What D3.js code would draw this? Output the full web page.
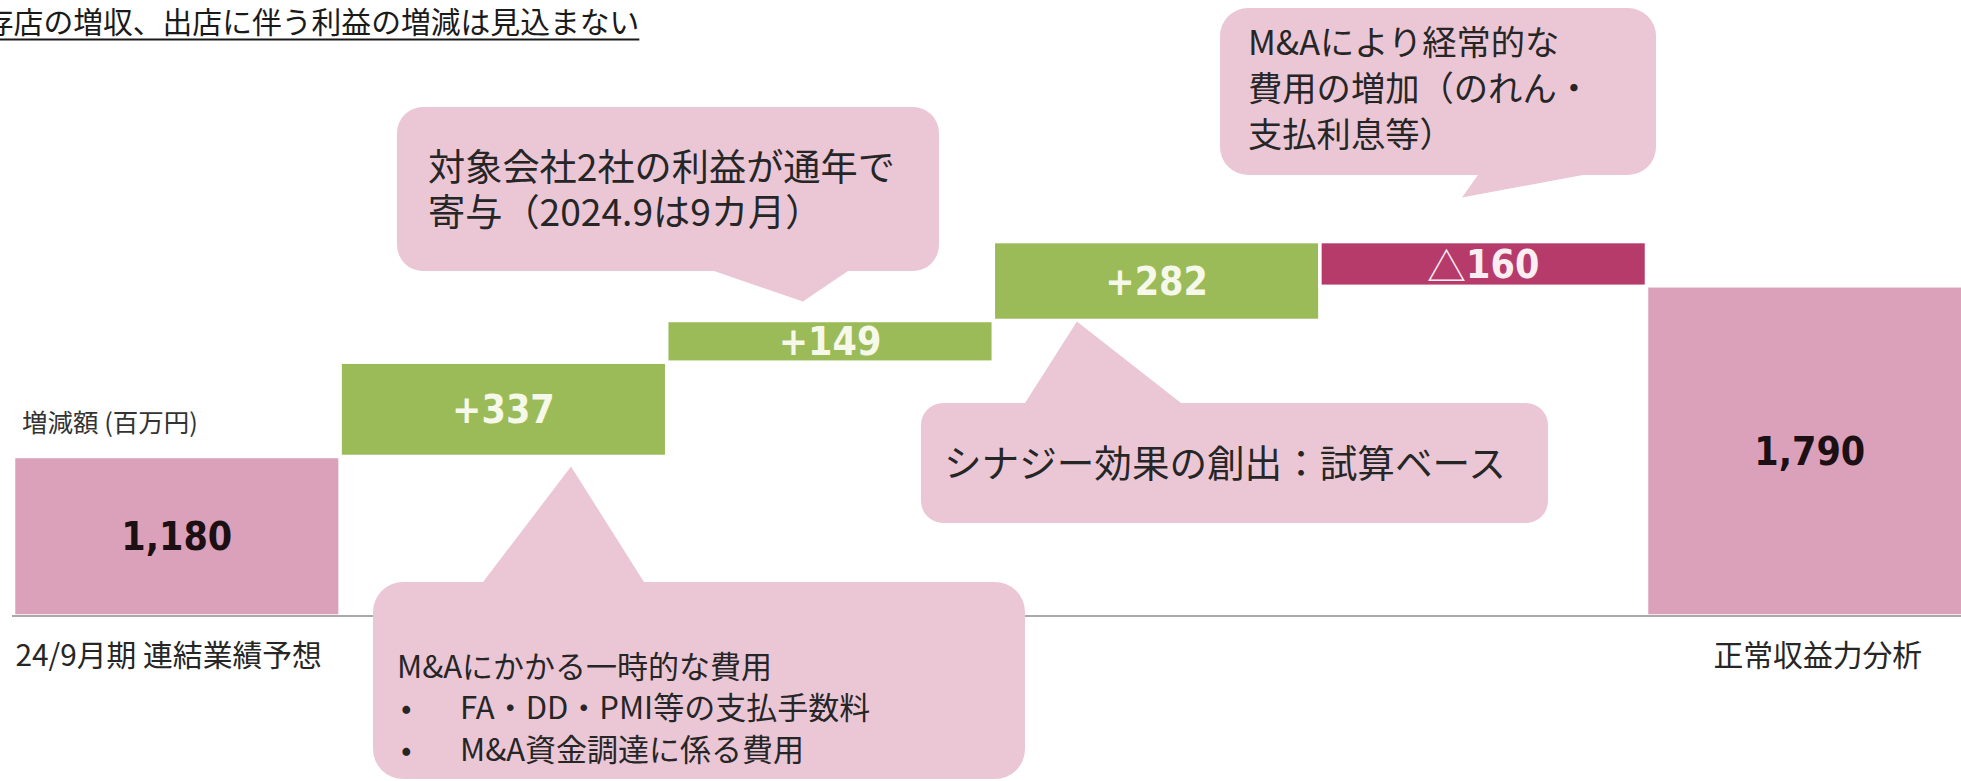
<!DOCTYPE html>
<meta charset="utf-8">
<title>正常収益力分析</title>
<script src="https://d3js.org/d3.v7.min.js"></script>
<style>
  body { margin: 0; background: #fff; }
  svg { display: block; }
  text { font-family: "Noto Sans CJK JP", "Noto Sans", sans-serif; fill: #262626; }
  text.value {
    font-family: "DejaVu Sans Condensed", "DejaVu Sans", sans-serif;
    font-weight: bold;
    font-size: 39px;
    text-anchor: middle;
    dominant-baseline: central;
  }
  text.cat { font-size: 29.8px; }
  text.unit { font-size: 25.5px; fill: #333; }
  text.title { font-size: 29.8px; fill: #1a1a1a; }
  .bar { stroke: #fff; stroke-width: 3.5px; }
  .callout { fill: #ebc7d6; }
</style>
<div id="chart"></div>
<script>
var width = 1961, height = 781;

// waterfall steps, 百万円
var stepKeys = ["forecast", "ma_once", "full_year", "synergy", "ma_recurring", "normal"];
var stepNames = ["24/9月期 連結業績予想", "", "", "", "", "正常収益力分析"];
var stepValues = [1180, 337, 149, 282, -160, 1790];
var stepIsTotal = [true, false, false, false, false, true];

// the slide cuts the value axis, bars start from this value
var axisFloor = 610;
var axisTop = 1950;

var titleText = "既存店の増収、出店に伴う利益の増減は見込まない";
var unitText = "増減額 (百万円)";

var noteFullYear = ["対象会社2社の利益が通年で", "寄与（2024.9は9カ月）"];
var noteOnce = ["M&Aにかかる一時的な費用"];
var noteOnceBullets = ["FA・DD・PMI等の支払手数料", "M&A資金調達に係る費用"];
var noteSynergy = ["シナジー効果の創出：試算ベース"];
var noteRecurring = ["M&Aにより経常的な", "費用の増加（のれん・", "支払利息等）"];

var colors = { total: "#dba1ba", up: "#9bbb59", down: "#b73b6a" };

var svg = d3.select("#chart")
  .append("svg")
    .attr("width", width)
    .attr("height", height);

var x = d3.scaleBand()
  .domain(stepKeys)
  .range([13.5, 13.5 + 6 * 326.6])
  .paddingInner(0);

var y = d3.scaleLinear()
  .domain([axisFloor, axisTop])
  .range([616, 241]);

// build the floating bars
var running = 0;
var bars = stepKeys.map(function(k, i) {
  var v = stepValues[i], lo, hi, type;
  if (stepIsTotal[i]) {
    lo = axisFloor; hi = v; running = v; type = "total";
  } else {
    lo = Math.min(running, running + v);
    hi = Math.max(running, running + v);
    running += v;
    type = v >= 0 ? "up" : "down";
  }
  return { key: k, name: stepNames[i], value: v, lo: lo, hi: hi, type: type };
});

function valueLabel(d) {
  if (d.type == "total") return d3.format(",")(d.value);
  if (d.type == "up") return "+" + d.value;
  return Math.abs(d.value);
}

svg.selectAll("rect.bar")
  .data(bars)
  .enter()
  .append("rect")
    .attr("class", "bar")
    .attr("x", function(d) { return x(d.key); })
    .attr("y", function(d) { return y(d.hi); })
    .attr("width", x.bandwidth())
    .attr("height", function(d) { return y(d.lo) - y(d.hi); })
    .attr("fill", function(d) { return colors[d.type]; });

var labels = svg.selectAll("text.value")
  .data(bars)
  .enter()
  .append("text")
    .attr("class", "value")
    .attr("x", function(d) { return x(d.key) + x.bandwidth() / 2; })
    .attr("y", function(d) { return (y(d.lo) + y(d.hi)) / 2; })
    .style("fill", function(d) {
      return d.type == "total" ? "#1c1014" : (d.type == "up" ? "#f6f8ea" : "#fbeef3");
    });

labels.filter(function(d) { return d.type == "down"; })
  .append("tspan")
    .style("font-family", "'Noto Sans CJK JP'")
    .style("font-weight", "normal")
    .text("△");
labels.append("tspan").text(valueLabel);

// baseline
svg.append("line")
  .attr("x1", 12)
  .attr("x2", width)
  .attr("y1", y(axisFloor))
  .attr("y2", y(axisFloor))
  .attr("stroke", "#8c8c8c")
  .attr("stroke-width", 1.5);

// category labels: first one sits at the bar's left edge, last one centred
svg.selectAll("text.cat")
  .data(bars.filter(function(d) { return d.name != ""; }))
  .enter()
  .append("text")
    .attr("class", "cat")
    .attr("x", function(d) {
      return d.key == stepKeys[0] ? x(d.key) + 2 : x(d.key) + x.bandwidth() / 2 + 8;
    })
    .attr("y", 666)
    .attr("text-anchor", function(d) { return d.key == stepKeys[0] ? "start" : "middle"; })
    .text(function(d) { return d.name; });

svg.append("text")
  .attr("class", "unit")
  .attr("x", 22)
  .attr("y", 432)
  .text(unitText);

// title (cut at the left edge like the slide)
var title = svg.append("text")
  .attr("class", "title")
  .attr("x", -46)
  .attr("y", 33)
  .text(titleText);
var titleEnd = -46 + title.node().getComputedTextLength();
svg.append("line")
  .attr("x1", 0)
  .attr("x2", titleEnd)
  .attr("y1", 39.5)
  .attr("y2", 39.5)
  .attr("stroke", "#1a1a1a")
  .attr("stroke-width", 2);

// callouts
var barByKey = {};
bars.forEach(function(d) { barByKey[d.key] = d; });

var callouts = [
  { box: [397, 107, 542, 164], r: 26, side: "bottom", base: [714, 848],
    anchor: "full_year", fx: 0.417, edge: "hi", dy: -19,
    size: 37.2, tx: 428, lines: noteFullYear, ty: [181, 226] },
  { box: [373, 582, 652, 197], r: 30, side: "top", base: [483, 644],
    anchor: "ma_once", fx: 0.707, edge: "lo", dy: 10,
    size: 31, tx: 397, lines: noteOnce, ty: [678], bullets: noteOnceBullets, by: [719, 761] },
  { box: [921, 403, 627, 120], r: 22, side: "top", base: [1025, 1181],
    anchor: "synergy", fx: 0.256, edge: "lo", dy: 1,
    size: 37.6, tx: 944, lines: noteSynergy, ty: [477] },
  { box: [1220, 8, 436, 167], r: 28, side: "bottom", base: [1478, 1583],
    anchor: "ma_recurring", fx: 0.435, edge: "hi", dy: -44,
    size: 34.3, tx: 1248, lines: noteRecurring, ty: [55, 101, 147] }
];

function calloutPath(c) {
  var bx = c.box[0], by = c.box[1], bw = c.box[2], bh = c.box[3], r = c.r;
  var b = barByKey[c.anchor];
  var tipX = x(b.key) + c.fx * x.bandwidth();
  var tipY = y(b[c.edge]) + c.dy;
  var p = d3.path();
  p.moveTo(bx + r, by);
  if (c.side == "top") {
    p.lineTo(c.base[0], by);
    p.lineTo(tipX, tipY);
    p.lineTo(c.base[1], by);
  }
  p.arcTo(bx + bw, by, bx + bw, by + r, r);
  p.arcTo(bx + bw, by + bh, bx + bw - r, by + bh, r);
  if (c.side == "bottom") {
    p.lineTo(c.base[1], by + bh);
    p.lineTo(tipX, tipY);
    p.lineTo(c.base[0], by + bh);
  }
  p.arcTo(bx, by + bh, bx, by + bh - r, r);
  p.arcTo(bx, by, bx + r, by, r);
  p.closePath();
  return p.toString();
}

callouts.forEach(function(c) {
  var g = svg.append("g");
  g.append("path")
    .attr("class", "callout")
    .attr("d", calloutPath(c));
  var t = g.append("text")
    .style("font-size", c.size + "px");
  c.lines.forEach(function(line, i) {
    t.append("tspan")
      .attr("x", c.tx)
      .attr("y", c.ty[i])
      .text(line);
  });
  if (c.bullets) {
    c.bullets.forEach(function(line, i) {
      t.append("tspan")
        .attr("x", c.tx + 4)
        .attr("y", c.by[i])
        .text("•");
      t.append("tspan")
        .attr("x", c.tx + 63)
        .attr("y", c.by[i])
        .text(line);
    });
  }
});
</script>
